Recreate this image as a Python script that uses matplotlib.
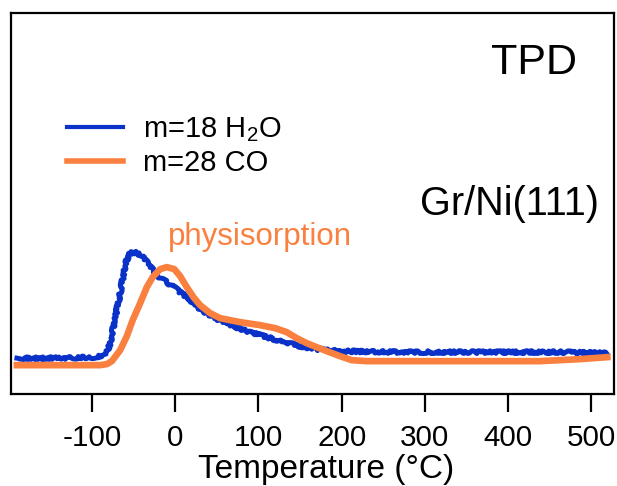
import matplotlib
matplotlib.use("Agg")
import matplotlib.pyplot as plt

plt.rcParams['font.family'] = ['Liberation Sans', 'DejaVu Sans']
plt.rcParams['mathtext.default'] = 'regular'
plt.rcParams['axes.unicode_minus'] = False

# Temperatur (°C) und Signal (willkürliche Einheiten)
temp_h2o = [-190, -138, -95, -90, -82, -78, -75, -70, -66, -60, -56, -51, -45, -39,
            -30, -22, -12, 0, 18, 30, 48, 70, 90, 110, 132, 150, 170, 198, 270,
            390, 462, 519]
sig_h2o = [36, 36, 37, 38, 42, 51, 64, 84, 101, 129, 139, 142, 141, 137,
           128, 119, 113, 106, 94, 85, 76, 68, 62, 57, 52, 48, 45, 43, 42,
           42, 42, 41]

temp_co = [-190, -90, -82, -76, -66, -58, -51, -42, -34, -27, -18, -10, -1, 6,
           14, 22, 30, 42, 54, 78, 102, 120, 134, 146, 158, 170, 182, 198, 212,
           230, 330, 438, 486, 519]
sig_co = [29, 29, 30, 33, 44, 58, 74, 91, 107, 117, 125, 127, 125, 118,
          107, 97, 89, 81, 76, 72, 69, 66, 62, 56, 51, 47, 43, 38, 34,
          33, 33, 33, 35, 37]

labels = ['m=18 H$_2$O', 'm=28 CO']
xticks = [-100, 0, 100, 200, 300, 400, 500]

blue = '#0a32c8'
orange = '#fa8040'

fig = plt.figure(figsize=(6.17, 4.86), dpi=100)
ax = fig.add_axes([0.018, 0.189, 0.977, 0.784])

l1, = ax.plot(temp_h2o, sig_h2o, color=blue, lw=3.6, label=labels[0])
l1.set_sketch_params(scale=1.4, length=3, randomness=20)
l2, = ax.plot(temp_co, sig_co, color=orange, lw=4.8, label=labels[1])

ax.set_xlim(-197, 527)
ax.set_ylim(0, 381)
ax.set_xticks(xticks)
ax.set_yticks([])
ax.tick_params(axis='x', direction='out', length=13, width=1.6, pad=8.5, labelsize=21.3)
for s in ax.spines.values():
    s.set_linewidth(1.6)

ax.set_xlabel('Temperature (°C)', fontsize=24, labelpad=0)
ax.xaxis.set_label_coords(0.522, -0.158)

ax.text(0.867, 0.87, 'TPD', transform=ax.transAxes, fontsize=31, ha='center', va='center')
ax.text(0.975, 0.5, 'Gr/Ni(111)', transform=ax.transAxes, fontsize=28.5, ha='right', va='center')
ax.text(-9, 142, 'physisorption', color=orange, fontsize=22.5, ha='left', va='bottom')

h1 = plt.Line2D([], [], color=blue, lw=3)
h2 = plt.Line2D([], [], color=orange, lw=4)
ax.legend([h1, h2], labels, loc='upper left', bbox_to_anchor=(0.093, 0.733),
          frameon=False, fontsize=21, handlelength=1.9, handletextpad=0.7,
          labelspacing=0.2, borderaxespad=0, borderpad=0)

fig.savefig('out.png', dpi=100)
